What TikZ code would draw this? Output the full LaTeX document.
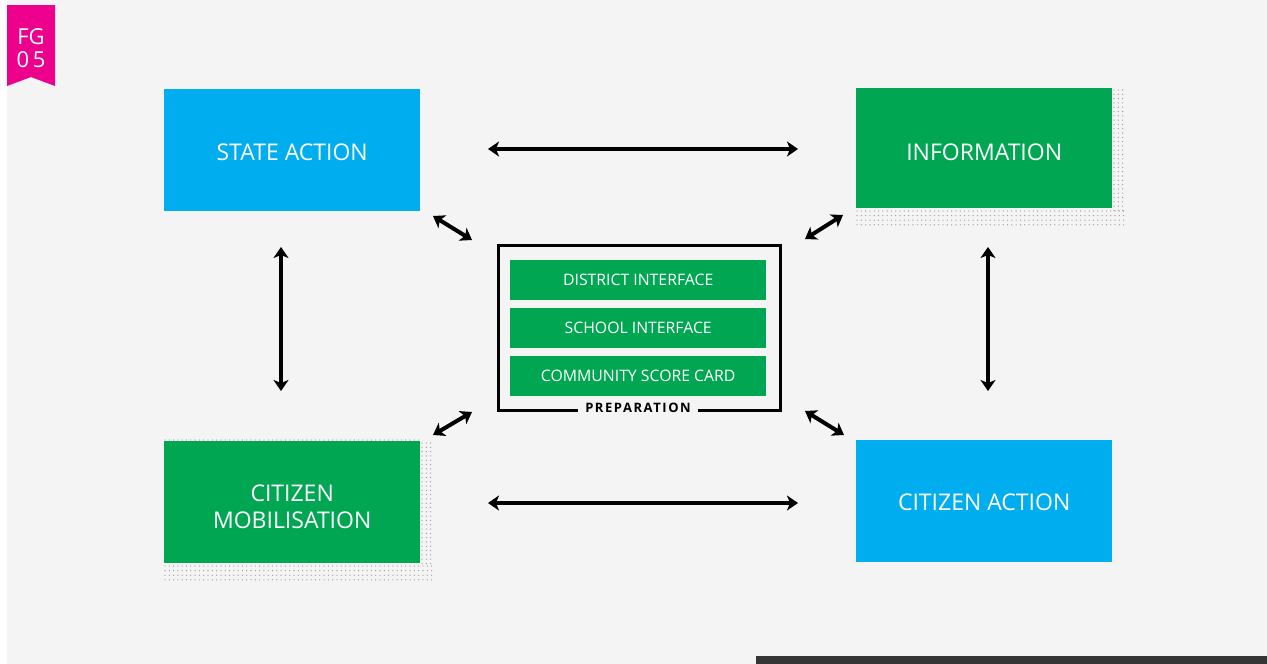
\documentclass[tikz,border=0pt]{standalone}
\usepackage{fontspec}
\setmainfont{Open Sans}
\newfontfamily\boldlab[LetterSpace=12]{Open Sans Bold}
\usetikzlibrary{arrows.meta}
\definecolor{skyblue}{HTML}{00AEEF}
\definecolor{leafgreen}{HTML}{00A651}
\definecolor{tagpink}{HTML}{EC008C}
\definecolor{paper}{HTML}{F4F4F4}
\definecolor{darkbar}{HTML}{353535}
\definecolor{dotgray}{HTML}{9A9A9A}
\begin{document}
\begin{tikzpicture}[x=1pt,y=-1pt,
  bigbox/.style={draw=none,minimum width=256pt,minimum height=122pt,anchor=north west,
    text=white,font=\fontsize{23}{27}\selectfont,align=center,inner sep=0pt},
  bluebox/.style={bigbox,fill=skyblue},
  greenbox/.style={bigbox,fill=leafgreen},
  barbox/.style={fill=leafgreen,minimum width=256pt,minimum height=40pt,anchor=north west,
    text=white,font=\fontsize{15.8}{17}\selectfont,inner sep=0pt},
  lbl/.style={text=white,font=\fontsize{23}{27}\selectfont,align=center,inner sep=0pt},
  dbl/.style={line width=4pt,{Stealth[length=11pt,width=15pt,inset=3pt]}-{Stealth[length=11pt,width=15pt,inset=3pt]}},
  dotc/.style={fill=dotgray}
]
\useasboundingbox (0,0) rectangle (1267,664);
\fill[white] (0,0) rectangle (1267,664);
\fill[paper] (7,0) rectangle (1267,664);
% dark bar
\fill[darkbar] (756,656) rectangle (1267,664);
% tag
\fill[tagpink] (7,5) -- (55,5) -- (55,86) -- (31,77) -- (7,86) -- cycle;
\node[text=white,font=\fontsize{22}{22}\selectfont,align=center,inner sep=0pt] (tag) at (31,48) {FG\\[1pt]0\,5};
% dotted shadows
\foreach \i in {0,...,62} {
  \foreach \j in {0,...,3} {
    \fill[dotc] (857+\i*4.3,211+\j*4.6) circle (0.65);
    \fill[dotc] (165+\i*4.3,566+\j*4.6) circle (0.65);
  }
}
\foreach \j in {0,...,28} {
  \foreach \i in {0,...,2} {
    \fill[dotc] (1114+\i*4.3,90+\j*4.3) circle (0.65);
    \fill[dotc] (422+\i*4.3,443+\j*4.3) circle (0.65);
  }
}
\foreach \i in {0,...,59} { \fill[dotc] (165+\i*4.3,440) circle (0.65); }
% big boxes
\node[bluebox] (state) at (164,89) {};
\node[greenbox,minimum height=120pt] (info) at (856,88) {};
\node[greenbox] (mob) at (164,441) {};
\node[bluebox] (cit) at (856,440) {};
\node[lbl] (statet) at ([yshift=-2pt]state.center) {STATE ACTION};
\node[lbl] (infot) at ([yshift=-4pt]info.center) {INFORMATION};
\node[lbl] (mobt) at ([yshift=-5pt]mob.center) {CITIZEN\\MOBILISATION};
\node[lbl] (citt) at ([yshift=-1pt]cit.center) {CITIZEN ACTION};
% centre
\node[draw=black,line width=2.5pt,minimum width=282pt,minimum height=165pt,anchor=north west,inner sep=0pt] (prep) at (497,244) {};
\node[barbox] (dist) at ([yshift=-1pt]510,259) {DISTRICT INTERFACE};
\node[barbox] (school) at ([yshift=-1pt]510,307) {SCHOOL INTERFACE};
\node[barbox] (card) at ([yshift=-1pt]510,355) {COMMUNITY SCORE CARD};
\node[fill=paper,inner xsep=7pt,inner ysep=2pt,font=\boldlab\fontsize{13}{14}\selectfont] (preplab) at (638,407.5) {PREPARATION};
% arrow end points
\coordinate (a1) at (488,149); \coordinate (a2) at (798,149);
\coordinate (b1) at (488,503); \coordinate (b2) at (798,503);
\coordinate (c1) at (281,247); \coordinate (c2) at (281,391);
\coordinate (d1) at (988,247); \coordinate (d2) at (988,391);
\coordinate (e1) at (433,216); \coordinate (e2) at (472,240);
\coordinate (f1) at (805,239); \coordinate (f2) at (843,215);
\coordinate (g1) at (433,435); \coordinate (g2) at (472,412);
\coordinate (h1) at (805,411); \coordinate (h2) at (844,435);
\draw[dbl] (a1) -- (a2);
\draw[dbl] (b1) -- (b2);
\draw[dbl] (c1) -- (c2);
\draw[dbl] (d1) -- (d2);
\draw[dbl] (e1) -- (e2);
\draw[dbl] (f1) -- (f2);
\draw[dbl] (g1) -- (g2);
\draw[dbl] (h1) -- (h2);
\end{tikzpicture}
\end{document}
